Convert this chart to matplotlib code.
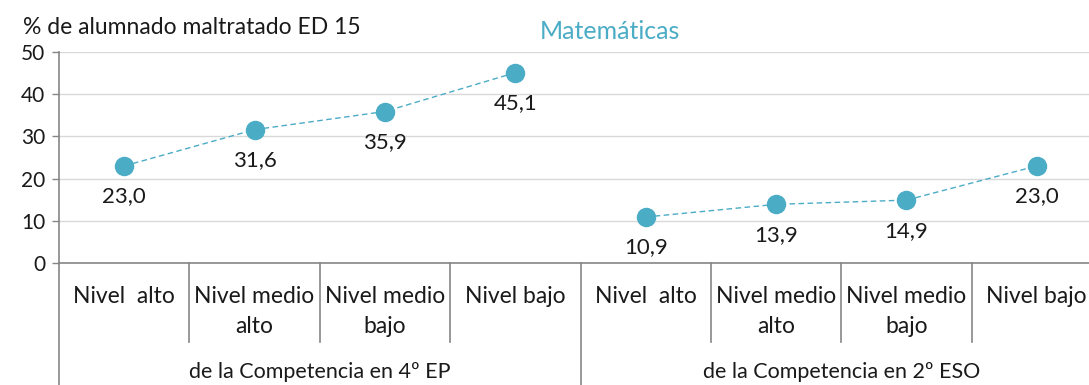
import matplotlib
matplotlib.use('Agg')
import matplotlib.pyplot as plt
from matplotlib.transforms import blended_transform_factory

plt.rcParams['font.family'] = ['Lato', 'DejaVu Sans']

niveles = ['Nivel  alto', 'Nivel medio\nalto', 'Nivel medio\nbajo', 'Nivel bajo']
grupos = ['de la Competencia en 4º EP', 'de la Competencia en 2º ESO']
ep_vals = [23.0, 31.6, 35.9, 45.1]
eso_vals = [10.9, 13.9, 14.9, 23.0]

teal = '#4BACC6'
axis_grey = '#868686'
txt = '#1a1a1a'
fs = 16.5

fig = plt.figure(figsize=(10.89, 3.85), dpi=100)
# plot area runs slightly past the right edge of the figure
ax = fig.add_axes([59 / 1089, 122 / 385, 1043 / 1089, 211 / 385])

series = [ep_vals, eso_vals]
for g, vals in enumerate(series):
    xs = [g * len(niveles) + i for i in range(len(vals))]
    ax.plot(xs, vals, color=teal, lw=1.0, ls=(0, (4, 2.5)),
            marker='o', ms=13, mfc=teal, mec=teal, zorder=3)
    for x, v in zip(xs, vals):
        ax.annotate(f'{v:.1f}'.replace('.', ','), (x, v), xytext=(0, -22),
                    textcoords='offset points', ha='center', va='center',
                    fontsize=16, color=txt)

ax.set_xlim(-0.5, 7.5)
ax.set_ylim(0, 50)
ax.set_yticks(range(0, 51, 10))
ax.tick_params(axis='y', length=5, width=1, color=axis_grey, labelsize=15,
               labelcolor=txt, pad=5)
ax.set_xticks([])
ax.grid(axis='y', color='#D9D9D9', lw=1)
ax.set_axisbelow(True)
for s in ['top', 'right']:
    ax.spines[s].set_visible(False)
for s in ['left', 'bottom']:
    ax.spines[s].set_color(axis_grey)
    ax.spines[s].set_linewidth(1.2)

# two-level category axis below the plot
tr = blended_transform_factory(ax.transData, ax.transAxes)
n = len(niveles) * len(grupos)
for b in range(n + 1):
    x = b - 0.5
    y_end = -0.58 if b % len(niveles) == 0 else -0.374
    ax.plot([x, x], [0, y_end], transform=tr, color=axis_grey, lw=1.2,
            clip_on=False)

for g, grupo in enumerate(grupos):
    for i, nivel in enumerate(niveles):
        x = g * len(niveles) + i
        for k, line in enumerate(nivel.split('\n')):
            ax.text(x, -0.161 - 0.142 * k, line, transform=tr, ha='center',
                    va='center', fontsize=fs, color=txt)
    ax.text(g * len(niveles) + 1.5, -0.517, grupo, transform=tr,
            ha='center', va='center', fontsize=15.5, color=txt)

fig.text(23 / 1089, 1 - 34 / 385, '% de alumnado maltratado ED 15',
         ha='left', va='baseline', fontsize=fs, color=txt)
fig.text(610 / 1089, 1 - 39 / 385, 'Matemáticas', ha='center', va='baseline',
         fontsize=18, color=teal)

fig.savefig('out.png', dpi=100, facecolor='white')
